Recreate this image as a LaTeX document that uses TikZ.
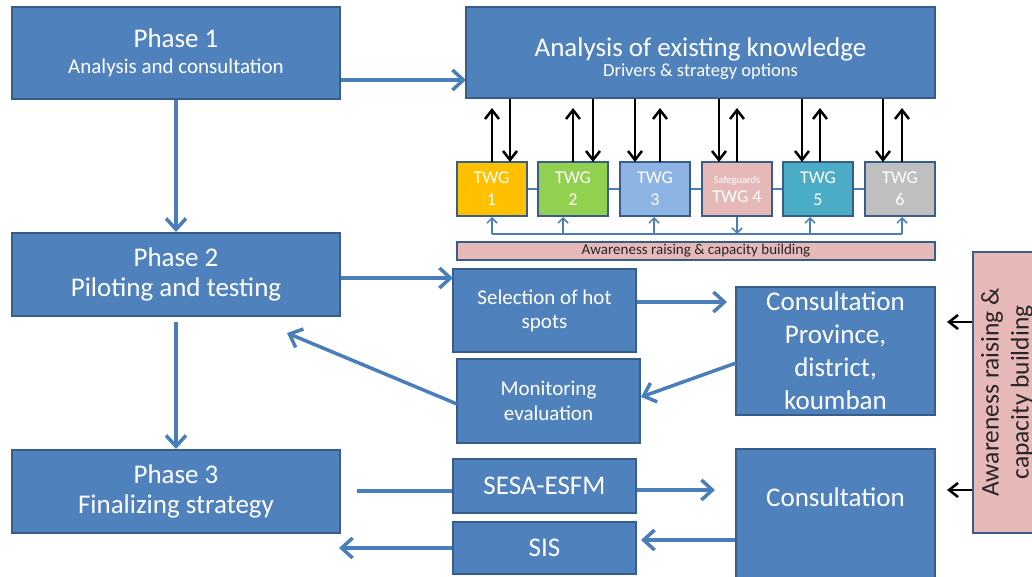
\documentclass[tikz,border=0pt]{standalone}
\usepackage{fontspec}
\setmainfont{Carlito}
\usetikzlibrary{arrows.meta}
\definecolor{boxblue}{HTML}{4F81BD}
\definecolor{edgeblue}{HTML}{385D8A}
\definecolor{linkblue}{HTML}{4A7EBB}
\definecolor{twgorange}{HTML}{FFC000}
\definecolor{twggreen}{HTML}{92D050}
\definecolor{twglight}{HTML}{8DB4E2}
\definecolor{twgpink}{HTML}{E6B9B8}
\definecolor{twgteal}{HTML}{4BACC6}
\definecolor{twggray}{HTML}{BFBFBF}
\definecolor{darktext}{HTML}{262626}
\tikzset{
  bluebox/.style={draw=edgeblue, line width=2pt, fill=boxblue, text=white,
    align=center, inner sep=0pt},
  boxtext/.style={text=white, align=center, inner sep=0pt},
  twgbox/.style={draw=edgeblue, line width=2pt, text=white, align=center,
    minimum width=70pt, minimum height=54pt, inner sep=0pt,
    font=\fontsize{18}{22}\selectfont},
  pinkbox/.style={draw=edgeblue, line width=2pt, fill=twgpink, text=darktext,
    align=center, inner sep=0pt},
  flow/.style={draw=linkblue, line width=3.5pt,
    -{Straight Barb[length=11pt,width=20pt]}},
  flowplain/.style={draw=linkblue, line width=3.5pt},
  feed/.style={draw=black, line width=2.5pt,
    -{Straight Barb[length=9pt,width=14pt]}},
  thinlink/.style={draw=linkblue, line width=1.5pt},
  thinflow/.style={thinlink, -{Straight Barb[length=5pt,width=10pt]}},
}
\begin{document}
\begin{tikzpicture}[x=1pt,y=-1pt]
\useasboundingbox (0,0) rectangle (1032,576);
\clip (0,0) rectangle (1032,576);
\fill[white] (0,0) rectangle (1032,576);

% phases
\node[bluebox, minimum width=328pt, minimum height=92pt,
  font=\fontsize{27}{30}\selectfont] (p1) at (176,53)
  {Phase 1\\[-4pt]{\fontsize{21}{24}\selectfont Analysis and consultation}};
\node[bluebox, minimum width=328pt, minimum height=83pt,
  font=\fontsize{27}{30}\selectfont] (p2) at (176,274.5)
  {Phase 2\\Piloting and testing};
\node[bluebox, minimum width=328pt, minimum height=83pt,
  font=\fontsize{27}{30}\selectfont] (p3) at (176,491.5)
  {Phase 3\\Finalizing strategy};

% knowledge analysis and working groups
\node[bluebox, minimum width=469pt, minimum height=91pt] (ana) at (700.5,52.5) {};
\node[boxtext, font=\fontsize{27}{30}\selectfont] (anatxt) at (700.5,59)
  {Analysis of existing knowledge\\[-10pt]{\fontsize{18.5}{22}\selectfont Drivers \& strategy options}};
\node[twgbox, fill=twgorange] (twg1) at (491.5,189) {TWG\\1};
\node[twgbox, fill=twggreen]  (twg2) at (573,189)   {TWG\\2};
\node[twgbox, fill=twglight]  (twg3) at (655,189)   {TWG\\3};
\node[twgbox, fill=twgpink]   (twg4) at (737,189)
  {{\fontsize{10.5}{13}\selectfont Safeguards}\\[-3pt]TWG 4};
\node[twgbox, fill=twgteal]   (twg5) at (818,189)   {TWG\\5};
\node[twgbox, fill=twggray]   (twg6) at (900,189)   {TWG\\6};
\node[pinkbox, minimum width=478pt, minimum height=18pt,
  font=\fontsize{15}{17}\selectfont] (bar) at (696,251)
  {Awareness raising \& capacity building};

% piloting boxes
\node[bluebox, minimum width=183pt, minimum height=83pt,
  font=\fontsize{21}{24}\selectfont] (sel) at (544.5,310.5) {Selection of hot\\spots};
\node[bluebox, minimum width=183pt, minimum height=84pt,
  font=\fontsize{21}{25}\selectfont] (mon) at (548.5,401) {Monitoring\\evaluation};
\node[bluebox, minimum width=199pt, minimum height=128pt,
  font=\fontsize{27}{33}\selectfont] (cons1) at (835.5,351)
  {Consultation\\Province,\\district,\\koumban};

% finalizing boxes
\node[bluebox, minimum width=183pt, minimum height=54pt,
  font=\fontsize{27}{30}\selectfont] (sesa) at (544.5,486) {SESA-ESFM};
\node[bluebox, minimum width=183pt, minimum height=52pt,
  font=\fontsize{27}{30}\selectfont] (sis) at (544.5,548) {SIS};
\node[bluebox, minimum width=199pt, minimum height=136pt] (cons2) at (835.5,517) {};
\node[boxtext, font=\fontsize{27}{30}\selectfont] (cons2txt)
  at (835.5,497) {Consultation};

% side panel
\node[pinkbox, rotate=90, minimum width=281pt, minimum height=68pt,
  font=\fontsize{25.5}{30}\selectfont] (aware) at (1007,392.5)
  {Awareness raising \&\\capacity building};

% phase flow
\draw[flow] (p1.south) -- (p2.north);
\coordinate (p2low) at (176,322);
\draw[flow] (p2low) -- (p3.north);
\coordinate (anain) at (466,80);
\draw[flow] (p1.east |- anain) -- (anain);
\coordinate (selin) at (453,278);
\draw[flow] (p2.east |- selin) -- (selin);
\coordinate (p2back) at (287,333);
\coordinate (monout) at (457,404);
\draw[flow] (monout) -- (p2back);
\coordinate (p3out) at (357,491);
\draw[flowplain] (p3out) -- (p3out -| sesa.west);
\coordinate (sisback) at (339,548);
\draw[flow] (sis.west) -- (sisback);

% piloting flow
\coordinate (consin) at (727,302);
\draw[flow] (sel.east |- consin) -- (consin);
\coordinate (consout) at (736,363);
\coordinate (monin) at (641,397);
\draw[flow] (consout) -- (monin);
\coordinate (cons2in) at (715,490);
\draw[flow] (sesa.east |- cons2in) -- (cons2in);
\coordinate (sisin) at (641,540);
\draw[flow] (cons2.west |- sisin) -- (sisin);

% exchanges between the analysis and the working groups
\foreach \i/\up/\dn in {1/492/510, 2/573/593, 3/660/635, 4/737/719, 5/820/802, 6/902/883} {
  \coordinate (u\i) at (\up,162);
  \coordinate (d\i) at (\dn,162);
  \draw[feed] (u\i) -- ++(0,-54);
  \draw[feed] (ana.south -| d\i) -- (d\i);
}

% links along and below the working groups
\draw[thinlink] (twg1.east) -- (twg2.west);
\draw[thinlink] (twg2.east) -- (twg3.west);
\draw[thinlink] (twg3.east) -- (twg4.west);
\draw[thinlink] (twg4.east) -- (twg5.west);
\draw[thinlink] (twg5.east) -- (twg6.west);
\coordinate (b1) at (492,234);
\coordinate (b2) at (563,234);
\coordinate (b3) at (654,234);
\coordinate (b4) at (737,234);
\coordinate (b5) at (810,234);
\coordinate (b6) at (902,234);
\draw[thinlink] (b1) -- (b6);
\draw[thinflow] (b1) -- (b1 |- twg1.south);
\draw[thinflow] (b2) -- (b2 |- twg2.south);
\draw[thinflow] (b3) -- (b3 |- twg3.south);
\draw[thinflow] (twg4.south -| b4) -- (b4);
\draw[thinflow] (b5) -- (b5 |- twg5.south);
\draw[thinflow] (b6) -- (b6 |- twg6.south);

% side panel feeding the consultations
\coordinate (aw1) at (947,322);
\coordinate (aw2) at (947,490);
\draw[feed] (aware.north |- aw1) -- (aw1);
\draw[feed] (aware.north |- aw2) -- (aw2);
\end{tikzpicture}
\end{document}
